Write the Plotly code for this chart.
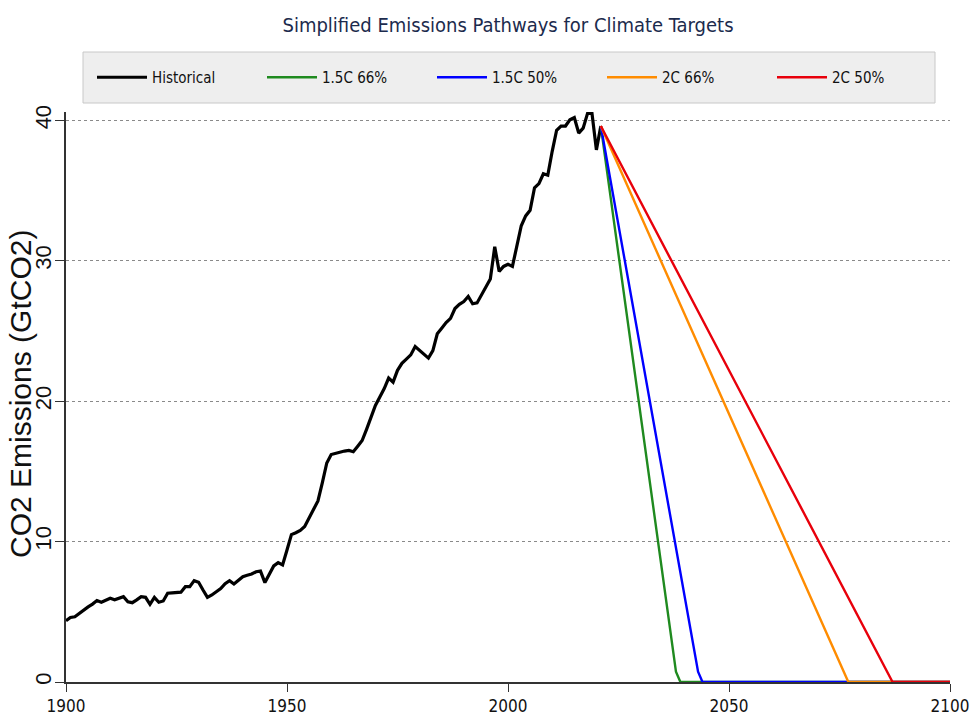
import plotly.graph_objects as go

# ---------------- data ----------------
hist_years = list(range(1900, 2022))
hist_values = [
    4.37, 4.60, 4.65, 4.90, 5.10, 5.35, 5.55, 5.80, 5.68, 5.85,   # 1900-1909
    5.96, 5.85, 5.95, 6.08, 5.72, 5.65, 5.85, 6.08, 6.03, 5.53,   # 1910-1919
    6.03, 5.68, 5.77, 6.32, 6.35, 6.37, 6.40, 6.79, 6.79, 7.22,   # 1920-1929
    7.10, 6.55, 6.03, 6.20, 6.45, 6.65, 7.00, 7.22, 6.98, 7.22,   # 1930-1939
    7.50, 7.60, 7.69, 7.85, 7.90, 7.08, 7.70, 8.27, 8.50, 8.34,   # 1940-1949
    9.40, 10.50, 10.63, 10.80, 11.07, 11.70, 12.30, 12.90, 14.20, 15.60,  # 1950-1959
    16.20, 16.30, 16.35, 16.45, 16.50, 16.40, 16.80, 17.20, 18.00, 18.80,  # 1960-1969
    19.70, 20.30, 20.90, 21.65, 21.36, 22.20, 22.70, 23.00, 23.30, 23.90,  # 1970-1979
    23.60, 23.30, 23.07, 23.60, 24.80, 25.20, 25.60, 25.90, 26.60, 26.90,  # 1980-1989
    27.10, 27.46, 26.94, 27.00, 27.60, 28.10, 28.70, 31.00, 29.25, 29.60,  # 1990-1999
    29.75, 29.60, 31.00, 32.50, 33.20, 33.60, 35.20, 35.50, 36.20, 36.10,  # 2000-2009
    37.80, 39.30, 39.60, 39.60, 40.05, 40.20, 39.10, 39.45, 40.50, 40.50,  # 2010-2019
    37.90, 39.60,                                                          # 2020-2021
]

p15_66_years = [2021, 2038, 2039, 2100]
p15_66_values = [39.6, 0.73, 0.0, 0.0]
p15_50_years = [2021, 2043, 2044, 2100]
p15_50_values = [39.6, 0.73, 0.0, 0.0]
p2_66_years = [2021, 2077, 2100]
p2_66_values = [39.6, 0.0, 0.0]
p2_50_years = [2021, 2087, 2100]
p2_50_values = [39.6, 0.0, 0.0]

series_names = ["Historical", "1.5C 66%", "1.5C 50%", "2C 66%", "2C 50%"]
series_colors = ["#000000", "#1f8a1f", "#0000FF", "#FF8C00", "#E8000B"]

y_ticks = [0, 10, 20, 30, 40]
x_ticks = [1900, 1950, 2000, 2050, 2100]
y_title = "CO2 Emissions (GtCO2)"
chart_title = "Simplified Emissions Pathways for Climate Targets"

# ---------------- figure ----------------
OFF = 0                      # body margin is removed below
W, H = 973 - OFF, 726 - OFF
# target screen positions of the plot area
SX0, SX1, SY0, SY1 = 66, 950, 112, 682
L, R, T, B = SX0 - OFF, W - (SX1 - OFF), SY0 - OFF, H - (SY1 - OFF)
pw, ph = W - L - R, H - T - B

def px_x(sx):  # screen px -> paper x
    return (sx - OFF - L) / pw

def px_y(sy):  # screen py -> paper y
    return (H - B - (sy - OFF)) / ph

COND = "DejaVu Sans Condensed, Liberation Sans Narrow, Arial Narrow, sans-serif"
REG = "Liberation Sans, Arial, Helvetica, sans-serif"

fig = go.Figure()
data = [
    (hist_years, hist_values, 3.2),
    (p15_66_years, p15_66_values, 2.4),
    (p15_50_years, p15_50_values, 2.4),
    (p2_66_years, p2_66_values, 2.4),
    (p2_50_years, p2_50_values, 2.4),
]
for (xs, ys, w), name, col in zip(data, series_names, series_colors):
    fig.add_trace(go.Scatter(x=xs, y=ys, mode="lines", name=name,
                             line=dict(color=col, width=w), hoverinfo="x+y+name"))

fig.update_layout(
    width=W, height=H,
    margin=dict(l=L, r=R, t=T, b=B, autoexpand=False),
    paper_bgcolor="white", plot_bgcolor="white",
    title=dict(text=chart_title,
               x=0.5, xanchor="center", xref="paper", y=1 - (25 - OFF) / H, yanchor="middle",
               font=dict(family=COND, size=20, color="#1c2b4d")),
    showlegend=True,
    legend=dict(orientation="h", xref="container", yref="container",
                x=(98 - 6 - OFF) / W, xanchor="left",
                y=1 - (77.5 - OFF) / H, yanchor="middle",
                bgcolor="rgba(0,0,0,0)", borderwidth=0,
                entrywidth=105, entrywidthmode="pixels",
                itemwidth=50,
                font=dict(family=COND, size=15, color="#111111")),
    shapes=[dict(type="rect", xref="paper", yref="paper",
                 x0=px_x(83), x1=px_x(935), y0=px_y(103), y1=px_y(52),
                 fillcolor="#eeeeee", line=dict(color="#c8c8c8", width=1), layer="below")],
    annotations=[dict(text=y_title, textangle=-90, showarrow=False,
                      xref="paper", yref="paper", x=px_x(20), y=px_y(394),
                      xanchor="center", yanchor="middle",
                      font=dict(family=REG, size=30, color="#111111"))],
)

fig.update_xaxes(range=[1900, 2100], tickvals=x_ticks, ticktext=[str(v) for v in x_ticks],
                 showgrid=False, zeroline=False, automargin=False,
                 showline=True, linecolor="#333333", linewidth=1.5,
                 ticks="outside", ticklen=8, tickcolor="#333333", tickwidth=1.3,
                 tickfont=dict(family=COND, size=17, color="#111111"))
fig.update_yaxes(range=[0, 40.6], tickvals=y_ticks, ticktext=[str(v) for v in y_ticks],
                 showgrid=True, gridcolor="#8a8a8a", griddash="dot", gridwidth=1,
                 zeroline=False, automargin=False,
                 showline=True, linecolor="#333333", linewidth=1.5,
                 ticks="outside", ticklen=9, tickcolor="#333333", tickwidth=1.3,
                 tickangle=-90, ticklabelstandoff=-5,
                 tickfont=dict(family=REG, size=22, color="#111111"))

fig.write_html("out.html",
               config={"displayModeBar": False},
               post_script="document.body.style.margin='0';document.body.style.overflow='hidden';")
